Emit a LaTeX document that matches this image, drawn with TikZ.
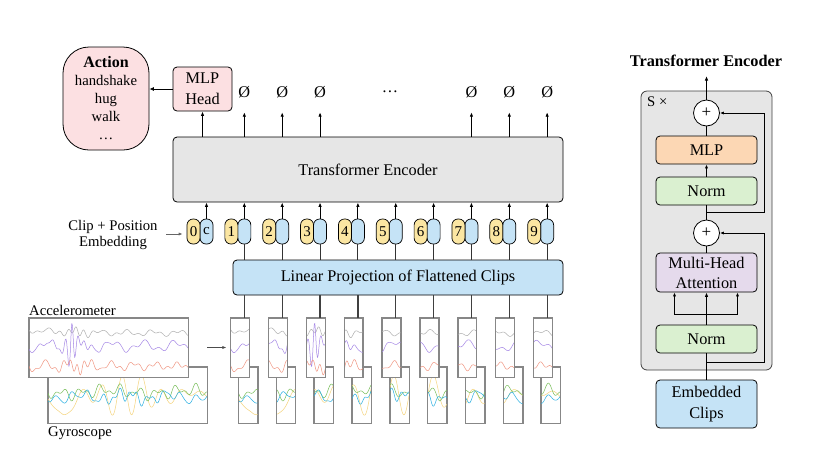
\documentclass[tikz,border=0pt]{standalone}
\usepackage{fontspec}
\setmainfont{Liberation Serif}
\usetikzlibrary{arrows.meta,calc}
\definecolor{pinkf}{RGB}{252,224,226}
\definecolor{encf}{RGB}{230,230,230}
\definecolor{bluef}{RGB}{197,227,246}
\definecolor{yelf}{RGB}{251,230,162}
\definecolor{orgf}{RGB}{252,215,180}
\definecolor{grnf}{RGB}{218,240,208}
\definecolor{purf}{RGB}{229,218,236}
\definecolor{wgray}{RGB}{175,175,175}
\definecolor{wpur}{RGB}{165,135,230}
\definecolor{wsal}{RGB}{240,150,130}
\definecolor{wgrn}{RGB}{120,190,90}
\definecolor{wcya}{RGB}{40,175,225}
\definecolor{wyel}{RGB}{245,212,125}
\definecolor{boxg}{RGB}{135,135,135}
\tikzset{
  fbox/.style={draw=black, line width=0.8pt, rounded corners=4pt, inner sep=0pt, align=center, font=\fontsize{16.3}{20}\selectfont},
  capsule/.style={draw=black, line width=0.7pt, rounded corners=6pt, minimum width=13pt, minimum height=25pt, inner sep=0pt, font=\fontsize{15}{15}\selectfont},
  arr/.style={-{Latex[length=4.5pt,width=3.5pt]}, line width=1.1pt},
  rarr/.style={-{Latex[length=4pt,width=3.2pt]}, line width=0.9pt},
  tline/.style={line width=1.1pt, black!80},
  dline/.style={line width=1.3pt, black!75},
  garr/.style={-{Latex[length=4pt,width=3.2pt]}, line width=0.9pt, black!60},
  clipbox/.style={draw=boxg, line width=0.9pt, fill=white, inner sep=0pt},
  wave/.style={line width=0.5pt, line join=round},
  lbl/.style={inner sep=0pt, font=\fontsize{14.7}{17}\selectfont},
  blbl/.style={inner sep=0pt, font=\fontsize{16.3}{20}\selectfont},
  plus/.style={draw=black, line width=0.8pt, circle, fill=white, minimum size=26pt, inner sep=0pt, font=\fontsize{17}{17}\selectfont},
}
\begin{document}
\begin{tikzpicture}[x=1pt,y=-1pt,
  declare function={
    sA(\t)=1/(1+((\t-0.3)/0.05)^2);
    sB(\t)=1/(1+((\t-0.27)/0.025)^2);
    sC(\t)=1/(1+((\t-0.5)/0.17)^2);
    sD(\t)=1/(1+((\t-0.1)/0.05)^2);
    ga(\t)=333+2*sin(2200*\t)+1.5*sin(5100*\t)+5*sA(\t)*sin(7000*\t)-3*(1-\t)^4;
    pa(\t)=346+4*sin(1800*\t+50)+2.5*sin(4300*\t)+26*sB(\t)*sin(9000*\t)+4*sA(\t)*sin(6000*\t);
    sa(\t)=366+5*(1-0.6*\t)*sin(2600*\t)+2*sin(6100*\t)+7*sA(\t)*sin(8000*\t);
    gg(\t)=392+4*sin(3000*\t)+3*sin(5300*\t+20)+2*sin(700*\t);
    cg(\t)=397+4*sin(3700*\t+70)+3*sin(1300*\t)+4*sC(\t)*sin(6900*\t);
    yg(\t)=395+22*sC(\t)*sin(2900*\t)+20*sD(\t)+3*sin(1100*\t);
  }]
\useasboundingbox (0,0) rectangle (830,467);

% ---------------- left part ----------------
\node[fbox, rounded corners=26pt, fill=pinkf, minimum width=86pt, minimum height=103pt,
      font=\fontsize{14.7}{18}\selectfont] (act) at (106,98.5)
      {{\fontsize{16}{18}\selectfont\bfseries Action}\\handshake\\hug\\walk\\…};
\node[fbox, fill=pinkf, minimum width=59pt, minimum height=44pt,
      font=\fontsize{16.3}{21}\selectfont] (mlp) at (202.5,89) {MLP\\Head};
\draw[-{Latex[length=4.5pt,width=4pt]}, line width=0.8pt] (mlp.west) -- (mlp.west -| act.east);

\node[fbox, fill=encf, minimum width=390pt, minimum height=65pt] (enc) at (368,169.5) {Transformer Encoder};
\node[fbox, fill=bluef, minimum width=330pt, minimum height=35pt] (lin) at (398,277.5) {Linear Projection of Flattened Clips};

\foreach \k in {0,...,9}{
  \pgfmathsetmacro{\X}{206.5+37.85*\k}
  \node[capsule, fill=bluef] (b\k) at (\X,231.5) {\ifnum\k=0 c\fi};
  \node[capsule, fill=yelf] (y\k) at (\X-13,231.5) {\k};
  \draw[arr] (b\k.north) -- (b\k.north |- enc.south);
}
\foreach \k in {1,...,9}{
  \draw[tline] (b\k.south) -- (b\k.south |- lin.north);
}
\foreach \k in {1,2,3,7,8,9}{
  \path (b\k) ++(0,-139.5) node[blbl, minimum height=40pt] (o\k) {Ø};
  \draw[arr] (o\k.south |- enc.north) -- (o\k.south);
}
\draw[arr] (mlp.south |- enc.north) -- (mlp.south);
\node[blbl] (dots) at (390,92) {…};

\node[lbl, align=center, inner xsep=8.5pt, font=\fontsize{14.7}{16}\selectfont] (cpe) at (113,235) {Clip + Position\\Embedding};
\coordinate (ca) at ($(y0.west)+(-4,2.5)$);
\draw[garr] (cpe.east |- ca) -- (ca);

% big signal boxes
\node[clipbox, minimum width=159pt, minimum height=56pt] (gyrbig) at (127.5,395) {};
\begin{scope}
  \clip (gyrbig.south west) rectangle (gyrbig.north east);
  \draw[wave, wyel] plot[domain=0:1, samples=220] ({48+159*\x},{yg(\x)});
  \draw[wave, wgrn] plot[domain=0:1, samples=220] ({48+159*\x},{gg(\x)});
  \draw[wave, wcya] plot[domain=0:1, samples=220] ({48+159*\x},{cg(\x)});
\end{scope}
\draw[boxg, line width=0.9pt] (gyrbig.south west) rectangle (gyrbig.north east);
\node[clipbox, minimum width=159pt, minimum height=59pt] (accbig) at (108.5,347.5) {};
\begin{scope}
  \clip (accbig.south west) rectangle (accbig.north east);
  \draw[wave, wgray] plot[domain=0:1, samples=220] ({29+159*\x},{ga(\x)});
  \draw[wave, wpur] plot[domain=0:1, samples=220] ({29+159*\x},{pa(\x)});
  \draw[wave, wsal] plot[domain=0:1, samples=220] ({29+159*\x},{sa(\x)});
\end{scope}
\draw[boxg, line width=0.9pt] (accbig.south west) rectangle (accbig.north east);
\node[lbl, anchor=west] (acclbl) at (29,310) {Accelerometer};
\node[lbl, anchor=west] (gyrlbl) at (48,433) {Gyroscope};

% clips
\foreach \k in {1,...,9}{
  \pgfmathsetmacro{\X}{206.5+37.85*\k}
  \node[clipbox, minimum width=19pt, minimum height=56pt] (g\k) at (\X+3.7,395) {};
  \begin{scope}
    \clip (g\k.south west) rectangle (g\k.north east);
    \draw[wave, wyel] plot[domain=0:1, samples=30] ({\X-5.8+19*\x},{yg((\k-1+\x)/9)});
    \draw[wave, wgrn] plot[domain=0:1, samples=30] ({\X-5.8+19*\x},{gg((\k-1+\x)/9)});
    \draw[wave, wcya] plot[domain=0:1, samples=30] ({\X-5.8+19*\x},{cg((\k-1+\x)/9)});
  \end{scope}
  \draw[boxg, line width=0.9pt] (g\k.south west) rectangle (g\k.north east);
  \node[clipbox, minimum width=18.5pt, minimum height=59pt] (a\k) at (\X-4.25,347.5) {};
  \begin{scope}
    \clip (a\k.south west) rectangle (a\k.north east);
    \draw[wave, wgray] plot[domain=0:1, samples=30] ({\X-13.5+18.5*\x},{ga((\k-1+\x)/9)});
    \draw[wave, wpur] plot[domain=0:1, samples=30] ({\X-13.5+18.5*\x},{pa((\k-1+\x)/9)});
    \draw[wave, wsal] plot[domain=0:1, samples=30] ({\X-13.5+18.5*\x},{sa((\k-1+\x)/9)});
  \end{scope}
  \draw[boxg, line width=0.9pt] (a\k.south west) rectangle (a\k.north east);
  \draw[dline] (lin.south -| b\k) -- (b\k |- a\k.north);
}
\coordinate (sa) at ($(accbig.east)+(19,0)$);
\coordinate (se) at ($(a1.west)+(-4,0)$);
\draw[garr, black!70] (sa) -- (se);

% ---------------- right part ----------------
\node[inner sep=0pt, font=\fontsize{16.3}{20}\selectfont\bfseries] (rtitle) at (706,61) {Transformer Encoder};
\node[draw=black!75, line width=0.8pt, rounded corners=6pt, fill=encf, minimum width=131pt, minimum height=279pt] (rbox) at (706.5,230.5) {};
\node[lbl, anchor=west] (sx) at (647,102) {S ×};
\node[fbox, fill=orgf, minimum width=101pt, minimum height=28pt] (rmlp) at (706.5,150) {MLP};
\node[fbox, fill=grnf, minimum width=101pt, minimum height=28pt] (rn1) at (706.5,191) {Norm};
\node[fbox, fill=purf, minimum width=101pt, minimum height=39pt] (rmha) at (706.5,272.5) {Multi-Head\\Attention};
\node[fbox, fill=grnf, minimum width=101pt, minimum height=28pt] (rn2) at (706.5,339) {Norm};
\node[fbox, fill=bluef, minimum width=101pt, minimum height=48pt, font=\fontsize{16.3}{21}\selectfont] (remb) at (706.5,404) {Embedded\\Clips};
\node[plus] (pt) at (706.5,113) {+};
\node[plus] (pb) at (706.5,233) {+};

\coordinate (tout) at (706.5,76);
\draw[arr] (pt.north) -- (tout);
\draw[line width=1.1pt] (rmlp.north) -- (pt.south);
\draw[rarr] (rn1.north) -- (rmlp.south);
\draw[line width=1.1pt] (pb.north) -- (rn1.south);
\draw[line width=1.1pt] (rmha.north) -- (pb.south);
\draw[arr] (rn2.north) -- (rmha.south);
\draw[line width=1.1pt] (remb.north) -- (rn2.south);

\coordinate (fk) at (706.5,314);
\path (rmha.south) ++(-32,0) coordinate (ml) ++(63,0) coordinate (mr);
\draw[rarr] (fk) -| (ml);
\draw[rarr] (fk) -| (mr);

\coordinate (br1) at (706.5,362);
\coordinate (rr1) at (764,362);
\draw[rarr] (br1) -- (rr1) |- (pb.east);
\coordinate (br2) at (706.5,212);
\coordinate (rr2) at (764,212);
\draw[rarr] (br2) -- (rr2) |- (pt.east);
\end{tikzpicture}
\end{document}
